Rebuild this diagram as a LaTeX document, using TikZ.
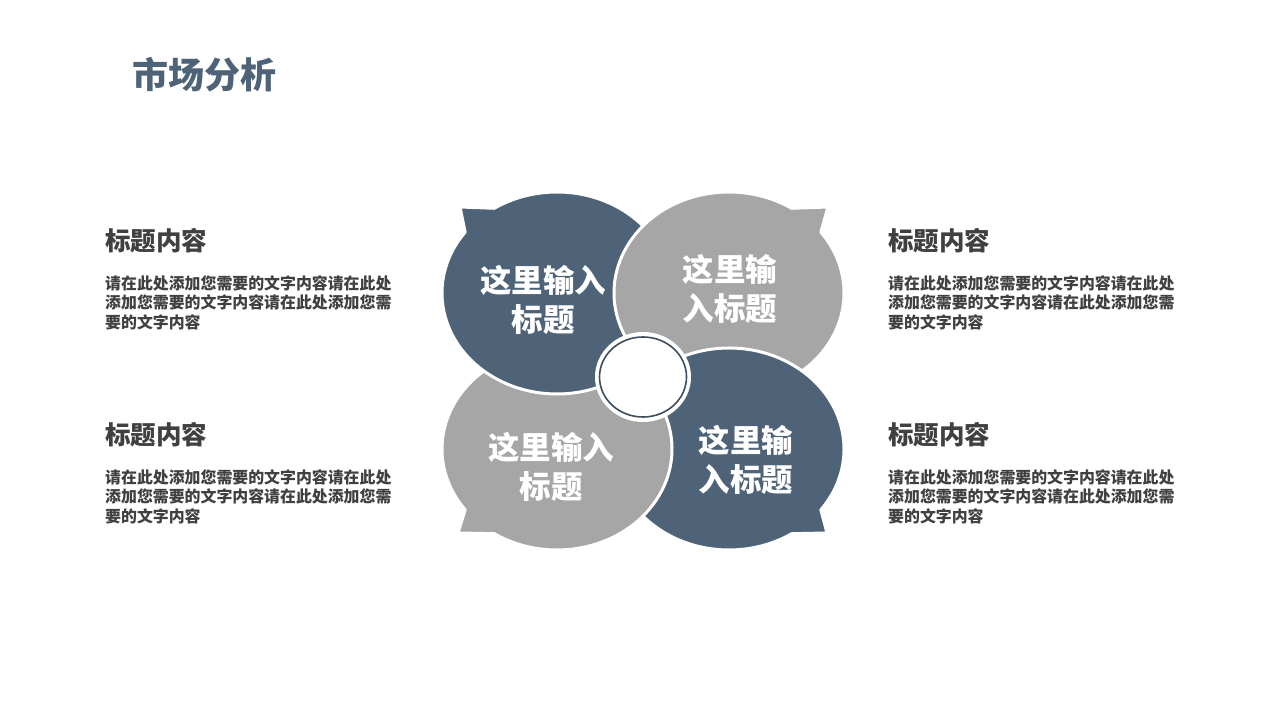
\documentclass[tikz,border=0pt]{standalone}
\usepackage{fontspec}
\setmainfont{Noto Sans CJK SC}
\definecolor{slate}{HTML}{4E6378}
\definecolor{ashgray}{HTML}{A6A6A6}
\definecolor{txtdark}{HTML}{404040}
\definecolor{ringc}{HTML}{3E4E5E}
\newcommand\bubblepath[4]{% center, tail low angle, tail high angle, tip
  (#1) ++(#3:115 and 101) arc[start angle=#3, end angle=#2+360, x radius=115, y radius=101] -- (#4) -- cycle}
\tikzset{
  bubble/.style={fill=#1, draw=white, line width=3pt, line join=round},
  lbl/.style={text=white, font=\fontsize{31.5}{38.5}\selectfont\bfseries, align=center, inner sep=0pt},
  head/.style={text=txtdark, font=\fontsize{25.5}{28}\selectfont\bfseries, anchor=west, inner sep=0pt},
  body/.style={text=txtdark, font=\fontsize{15.9}{19.6}\selectfont\bfseries, anchor=north west, align=left, inner sep=0pt},
}
\begin{document}
\begin{tikzpicture}[x=1pt,y=1pt]
\useasboundingbox (0,0) rectangle (1280,720);
\fill[white] (0,0) rectangle (1280,720);
% centres and tips
\coordinate (TLc) at (557,427); \coordinate (TLt) at (460,513);
\coordinate (TRc) at (729,427); \coordinate (TRt) at (828,513);
\coordinate (BLc) at (557,271); \coordinate (BLt) at (458,187);
\coordinate (BRc) at (729,271); \coordinate (BRt) at (827,187);
\coordinate (CC) at (643,343);
% bubbles (cyclic overlap)
\path[bubble=slate] \bubblepath{TLc}{123}{143}{TLt};
\path[bubble=ashgray] \bubblepath{TRc}{37}{57}{TRt};
\path[bubble=slate] \bubblepath{BRc}{303}{323}{BRt};
\path[bubble=ashgray] \bubblepath{BLc}{217}{237}{BLt};
\begin{scope}
  \clip (430,300) rectangle (612,392);
  \path[bubble=slate] \bubblepath{TLc}{123}{143}{TLt};
\end{scope}
% centre circle
\fill[white] (CC) ellipse [x radius=48, y radius=45];
\draw[ringc, line width=1.6pt] (CC) ellipse [x radius=43.5, y radius=40];
% bubble labels
\node[lbl] (tl) at (543,420) {这里输入\\标题};
\node[lbl] (tr) at (730,431) {这里输\\入标题};
\node[lbl] (bl) at (551,253) {这里输入\\标题};
\node[lbl] (br) at (746,260) {这里输\\入标题};
% title
\node[text=slate, font=\fontsize{36}{40}\selectfont\bfseries, anchor=west, inner sep=0pt] (title) at (132,645) {市场分析};
% side texts
\node[head] (h1) at (105,479) {标题内容};
\node[body] (b1) at (105,445) {请在此处添加您需要的文字内容请在此处\\添加您需要的文字内容请在此处添加您需\\要的文字内容};
\node[head] (h2) at (888,479) {标题内容};
\node[body] (b2) at (888,445) {请在此处添加您需要的文字内容请在此处\\添加您需要的文字内容请在此处添加您需\\要的文字内容};
\node[head] (h3) at (105,285) {标题内容};
\node[body] (b3) at (105,251) {请在此处添加您需要的文字内容请在此处\\添加您需要的文字内容请在此处添加您需\\要的文字内容};
\node[head] (h4) at (888,285) {标题内容};
\node[body] (b4) at (888,251) {请在此处添加您需要的文字内容请在此处\\添加您需要的文字内容请在此处添加您需\\要的文字内容};
\end{tikzpicture}
\end{document}
